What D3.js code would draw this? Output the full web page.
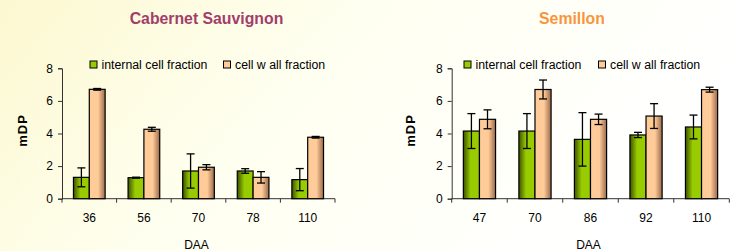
<!DOCTYPE html>
<html><head><meta charset="utf-8">
<script src="https://cdn.jsdelivr.net/npm/d3@7"></script>
<style>html,body{margin:0;padding:0;background:#fff;}svg{display:block;}</style>
</head><body>
<svg id="c" width="735" height="251"></svg>
<script>
// ---- data ----
const cabCategories = ["36", "56", "70", "78", "110"];
const cabInternal = [1.31, 1.29, 1.70, 1.70, 1.17];
const cabInternalErr = [0.58, 0.03, 1.05, 0.14, 0.68];
const cabWall = [6.71, 4.26, 1.93, 1.31, 3.77];
const cabWallErr = [0.05, 0.12, 0.16, 0.35, 0.05];

const semCategories = ["47", "70", "86", "92", "110"];
const semInternal = [4.15, 4.15, 3.64, 3.91, 4.40];
const semInternalErr = [1.07, 1.07, 1.64, 0.16, 0.73];
const semWall = [4.87, 6.70, 4.87, 5.07, 6.69];
const semWallErr = [0.58, 0.58, 0.32, 0.76, 0.15];

const yTicks = [0, 2, 4, 6, 8];
const seriesNames = ["internal cell fraction", "cell w all fraction"];
const titles = ["Cabernet Sauvignon", "Semillon"];
const xTitle = "DAA";
const yTitle = "mDP";

const FONT = "Arial, 'Liberation Sans', sans-serif";
const svg = d3.select("#c");
const defs = svg.append("defs");

// background gradient
const bg = defs.append("linearGradient").attr("id", "bg").attr("x1", "0").attr("x2", "1").attr("y1", "0").attr("y2", "0.3");
bg.append("stop").attr("offset", "0").attr("stop-color", "#fcf8d0");
bg.append("stop").attr("offset", "0.45").attr("stop-color", "#fffff0");
bg.append("stop").attr("offset", "1").attr("stop-color", "#ffffff");
svg.append("rect").attr("width", 735).attr("height", 251).attr("fill", "url(#bg)");

const gG = defs.append("linearGradient").attr("id", "gGreen").attr("x1", "0").attr("x2", "1");
gG.append("stop").attr("offset", "0").attr("stop-color", "#3d5200");
gG.append("stop").attr("offset", "0.45").attr("stop-color", "#99cc00");
gG.append("stop").attr("offset", "1").attr("stop-color", "#99cc00");
const gO = defs.append("linearGradient").attr("id", "gOrange").attr("x1", "0").attr("x2", "1");
gO.append("stop").attr("offset", "0").attr("stop-color", "#ffcc99");
gO.append("stop").attr("offset", "0.55").attr("stop-color", "#ffcc99");
gO.append("stop").attr("offset", "1").attr("stop-color", "#9a6a4a");

const panels = [
  {cats: cabCategories, a: cabInternal, ae: cabInternalErr, b: cabWall, be: cabWallErr,
   x0: 62, x1: 335, title: titles[0], titleColor: "#a33d6b", titleX: 206.5,
   leg: [90, 223.5], ylabX: 22.5},
  {cats: semCategories, a: semInternal, ae: semInternalErr, b: semWall, be: semWallErr,
   x0: 451.7, x1: 729.3, title: titles[1], titleColor: "#f7963c", titleX: 572,
   leg: [464, 598.5], ylabX: 410}
];

const yTop = 68.3, yBot = 198.7;

panels.forEach(p => {
  const g = svg.append("g");
  const x = d3.scaleBand().domain(p.cats).range([p.x0, p.x1]).paddingInner(0).paddingOuter(0);
  const y = d3.scaleLinear().domain([0, 8]).range([yBot, yTop]);
  const bw = x.bandwidth() * 0.29;

  // title
  g.append("text").attr("x", p.titleX).attr("y", 24).attr("text-anchor", "middle")
    .attr("font-family", FONT).attr("font-weight", "bold").attr("font-size", 15.8)
    .attr("fill", p.titleColor).text(p.title);

  // legend
  const fills = ["url(#gGreen)", "url(#gOrange)"];
  const lfill = ["#99cc00", "#ffcc99"];
  p.leg.forEach((lx, i) => {
    g.append("rect").attr("x", lx).attr("y", 61).attr("width", 7).attr("height", 7)
      .attr("fill", lfill[i]).attr("stroke", "#000").attr("stroke-width", 1);
    g.append("text").attr("x", lx + 11.5).attr("y", 68.5).attr("font-family", FONT)
      .attr("font-size", 12.3).attr("fill", "#000").text(seriesNames[i]);
  });

  // y axis
  const ya = g.append("g").attr("transform", `translate(${p.x0},0)`)
    .call(d3.axisLeft(y).tickValues(yTicks).tickSize(4).tickPadding(5).tickFormat(d3.format("d")));
  ya.select(".domain").attr("stroke", "#333");
  ya.selectAll(".tick line").attr("stroke", "#333");
  ya.selectAll("text").attr("font-family", FONT).attr("font-size", 12).attr("fill", "#000");

  // x axis
  const xa = g.append("g").attr("transform", `translate(0,${yBot})`)
    .call(d3.axisBottom(x).tickSize(0).tickPadding(15));
  xa.select(".domain").attr("stroke", "#333").attr("d", `M${p.x0},0H${p.x1}`);
  xa.selectAll("text").attr("font-family", FONT).attr("font-size", 12).attr("fill", "#000");
  const bounds = p.cats.map(c => x(c)).concat([p.x1]);
  xa.selectAll(".bt").data(bounds).enter().append("line").attr("class", "bt")
    .attr("x1", d => d).attr("x2", d => d).attr("y1", 0).attr("y2", 4).attr("stroke", "#333");

  // bars
  const series = [{v: p.a, e: p.ae, off: -bw, fill: fills[0]}, {v: p.b, e: p.be, off: 0, fill: fills[1]}];
  series.forEach(s => {
    g.selectAll(null).data(p.cats).enter().append("rect")
      .attr("x", c => x(c) + x.bandwidth() / 2 + s.off)
      .attr("y", (c, i) => y(s.v[i]))
      .attr("width", bw)
      .attr("height", (c, i) => y(0) - y(s.v[i]))
      .attr("fill", s.fill).attr("stroke", "#000").attr("stroke-width", 1.2);
  });
  series.forEach(s => {
    const eg = g.selectAll(null).data(p.cats).enter().append("g")
      .attr("stroke", "#000").attr("stroke-width", 1.3);
    const cx = c => x(c) + x.bandwidth() / 2 + s.off + bw / 2;
    eg.append("line").attr("x1", cx).attr("x2", cx)
      .attr("y1", (c, i) => y(s.v[i] + s.e[i])).attr("y2", (c, i) => y(s.v[i] - s.e[i]));
    eg.append("line").attr("x1", c => cx(c) - 4).attr("x2", c => cx(c) + 4)
      .attr("y1", (c, i) => y(s.v[i] + s.e[i])).attr("y2", (c, i) => y(s.v[i] + s.e[i]));
    eg.append("line").attr("x1", c => cx(c) - 4).attr("x2", c => cx(c) + 4)
      .attr("y1", (c, i) => y(s.v[i] - s.e[i])).attr("y2", (c, i) => y(s.v[i] - s.e[i]));
  });

  // axis titles
  g.append("text").attr("x", (p.x0 + p.x1) / 2 - 2).attr("y", 248.5).attr("text-anchor", "middle")
    .attr("font-family", FONT).attr("font-size", 12).attr("fill", "#000").text(xTitle);
  g.append("text").attr("transform", `translate(${p.ylabX + 4.5},${(yTop + yBot) / 2 - 3}) rotate(-90)`)
    .attr("text-anchor", "middle").attr("font-family", FONT).attr("font-weight", "bold")
    .attr("font-size", 13).attr("letter-spacing", 1).attr("fill", "#000").text(yTitle);
});
</script>
</body></html>
